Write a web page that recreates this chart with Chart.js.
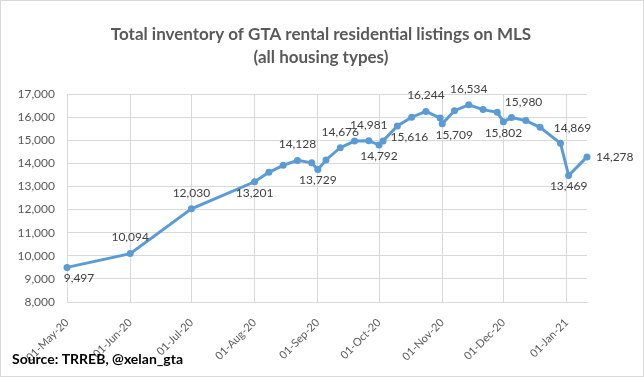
<!DOCTYPE html>
<html>
<head>
<meta charset="utf-8">
<script src="https://cdn.jsdelivr.net/npm/chart.js@4.4.1/dist/chart.umd.min.js"></script>
<style>
  html, body { margin: 0; padding: 0; background: #fff; }
  #wrap { width: 644px; height: 377px; position: relative; }
</style>
</head>
<body>
<div id="wrap"><canvas id="inventory-chart"></canvas></div>
<script>
// listing dates (monthly counts + weekly Saturday counts)
const dates = [
    '2020-05-01', '2020-06-01', '2020-07-01', '2020-08-01', '2020-08-08', '2020-08-15',
    '2020-08-22', '2020-08-29', '2020-09-01', '2020-09-05', '2020-09-12', '2020-09-19',
    '2020-09-26', '2020-10-01', '2020-10-03', '2020-10-10', '2020-10-17', '2020-10-24',
    '2020-10-31', '2020-11-01', '2020-11-07', '2020-11-14', '2020-11-21', '2020-11-28',
    '2020-12-01', '2020-12-05', '2020-12-12', '2020-12-19', '2020-12-29', '2021-01-02',
    '2021-01-11'
]
// total inventory of rental listings
const listings = [
    9497, 10094, 12030, 13201, 13610, 13915,
    14128, 14020, 13729, 14145, 14676, 14965,
    14981, 14792, 14970, 15616, 15995, 16244,
    15960, 15709, 16280, 16534, 16325, 16210,
    15802, 15980, 15850, 15560, 14869, 13469,
    14278
]
// where Excel put the data label (null = no label)
const labelPlace = [
    'belowRight', 'above', 'above', 'below', null, null,
    'above', null, 'below', null, 'above', null,
    'above', 'below', null, 'belowRight', null, 'above',
    null, 'belowRight', null, 'above', null, null,
    'below', 'aboveRight', null, null, 'aboveRight', 'below',
    'right'
]
const tickDates = ['2020-05-01', '2020-06-01', '2020-07-01', '2020-08-01', '2020-09-01',
    '2020-10-01', '2020-11-01', '2020-12-01', '2021-01-01']
const tickLabels = ['01-May-20', '01-Jun-20', '01-Jul-20', '01-Aug-20', '01-Sep-20',
    '01-Oct-20', '01-Nov-20', '01-Dec-20', '01-Jan-21']
const titleLines = ['Total inventory of GTA rental residential listings on MLS', '(all housing types)']
const sourceNote = 'Source: TRREB, @xelan_gta'

const base = Date.parse(dates[0])
function dayOf(s) {
    return (Date.parse(s) - base) / 86400000
}
const tickDays = tickDates.map(dayOf)
const fmt = (v) => v.toLocaleString('en-US')

const FONT = "Lato, 'Liberation Sans', sans-serif"

// Excel style data labels
const dataLabels = {
    id: 'dataLabels',
    afterDatasetsDraw(chart) {
        const ctx = chart.ctx
        const pts = chart.getDatasetMeta(0).data
        ctx.save()
        ctx.font = '12px ' + FONT
        ctx.fillStyle = '#404040'
        ctx.textBaseline = 'middle'
        pts.forEach((p, i) => {
            const place = labelPlace[i]
            if (!place) return
            const txt = fmt(listings[i])
            let x = p.x, y = p.y
            ctx.textAlign = 'center'
            if (place == 'above') y -= 16
            else if (place == 'below') y += 11
            else if (place == 'belowRight') { x += 12; y += 11 }
            else if (place == 'aboveRight') { x += 12; y -= 15 }
            else if (place == 'right') { ctx.textAlign = 'left'; x += 9 }
            ctx.fillText(txt, x, y)
        })
        ctx.restore()
    }
}

// frame, title (centred on the whole page like Excel) and source note
const frame = {
    id: 'frame',
    afterDraw(chart) {
        const ctx = chart.ctx
        ctx.save()
        ctx.strokeStyle = '#d9d9d9'
        ctx.lineWidth = 1
        ctx.strokeRect(0.5, 0.5, chart.width - 1, chart.height - 1)

        ctx.font = 'bold 17px ' + FONT
        ctx.fillStyle = '#595959'
        ctx.textAlign = 'center'
        ctx.textBaseline = 'middle'
        titleLines.forEach((t, i) => ctx.fillText(t, 321, 35 + i * 23))

        ctx.font = 'bold 14px ' + FONT
        ctx.fillStyle = '#000'
        ctx.textAlign = 'left'
        ctx.fillText(sourceNote, 12, 359)
        ctx.restore()
    }
}

const ctx = document.getElementById('inventory-chart')
new Chart(ctx, {
    type: 'line',
    data: {
        datasets: [{
            label: 'Total inventory',
            data: dates.map((d, i) => ({ x: dayOf(d), y: listings[i] })),
            borderColor: '#5B9BD5',
            backgroundColor: '#5B9BD5',
            borderWidth: 3,
            pointRadius: 3.5,
            pointBackgroundColor: '#5B9BD5',
            pointBorderWidth: 0,
            tension: 0,
            clip: false
        }]
    },
    options: {
        responsive: true,
        maintainAspectRatio: false,
        animation: false,
        layout: { padding: { top: 94, right: 57, bottom: 0, left: 0 } },
        plugins: {
            legend: { display: false },
            tooltip: { enabled: false },
            title: { display: false }
        },
        scales: {
            x: {
                type: 'linear',
                min: 0,
                max: dayOf(dates[dates.length - 1]),
                afterBuildTicks: (scale) => {
                    scale.ticks = tickDays.map(v => ({ value: v }))
                },
                afterFit: (scale) => { scale.height = 75 },
                grid: { color: '#d9d9d9', drawTicks: false },
                border: { color: '#d9d9d9' },
                ticks: {
                    autoSkip: false,
                    minRotation: 45,
                    maxRotation: 45,
                    padding: 14,
                    color: '#595959',
                    font: { family: FONT, size: 11 },
                    callback: (v) => tickLabels[tickDays.indexOf(v)]
                }
            },
            y: {
                min: 8000,
                max: 17000,
                afterFit: (scale) => { scale.width = 67 },
                grid: { color: '#d9d9d9', drawTicks: false },
                border: { display: false },
                ticks: {
                    stepSize: 1000,
                    padding: 12,
                    color: '#595959',
                    font: { family: FONT, size: 12 },
                    callback: (v) => fmt(v)
                }
            }
        }
    },
    plugins: [dataLabels, frame]
})
</script>
</body>
</html>
